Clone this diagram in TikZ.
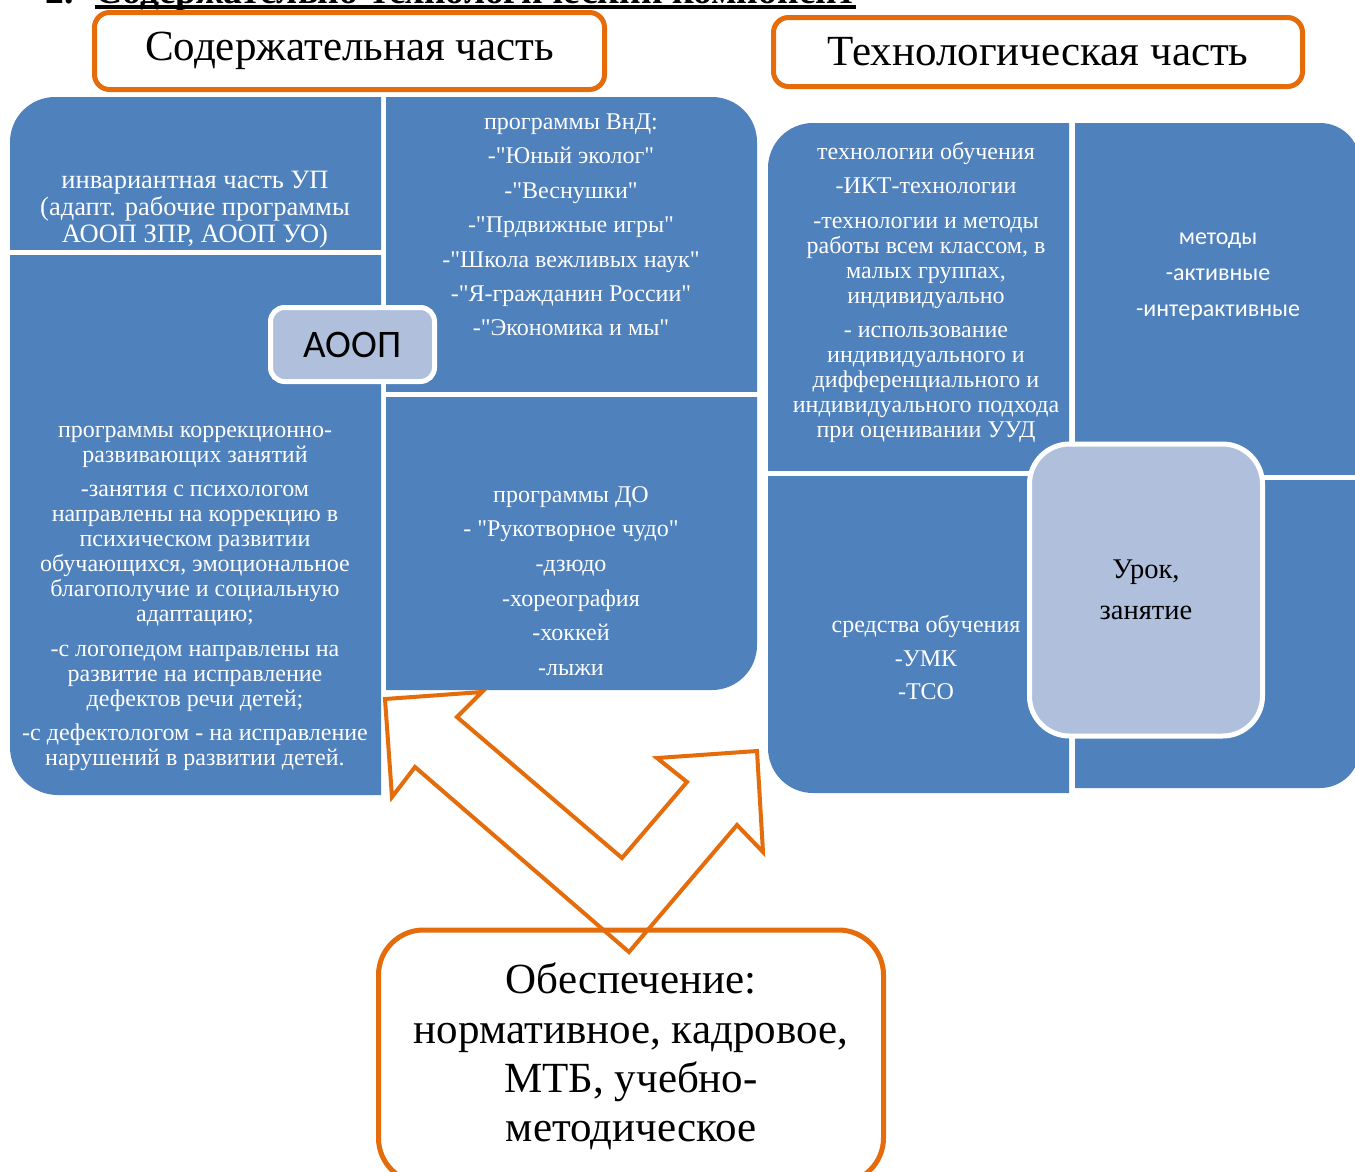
\documentclass[tikz,border=0pt]{standalone}
\usepackage{fontspec}
\setmainfont{Liberation Serif}[Ligatures=TeXOff]
\newfontfamily\calfont{Carlito}
\definecolor{cellblue}{RGB}{79,129,189}
\definecolor{lightcell}{RGB}{176,192,220}
\definecolor{orangeline}{RGB}{228,108,10}
\begin{document}
\begin{tikzpicture}[x=1pt,y=-1pt,
  celltext/.style={text=white, align=center, inner sep=0pt, font=\fontsize{24}{25}\selectfont},
  titlebox/.style={draw=orangeline, line width=5pt, rounded corners=15pt, inner sep=0pt, align=center, font=\fontsize{43}{48}\selectfont},
  centerbox/.style={draw=white, line width=5pt, fill=lightcell, inner sep=0pt, align=center, text=black},
  bentarrow/.style={draw=orangeline, line width=4pt, line join=miter}
]
\useasboundingbox (0,0) rectangle (1355,1171);
\fill[white] (0,0) rectangle (1355,1171);

% cut-off heading at the very top (only its lower edge shows)
\node[anchor=base west, inner sep=0pt, font=\fontsize{37.6}{40}\selectfont\bfseries] (num) at (45,3) {2.};
\node[anchor=base west, inner sep=0pt, font=\fontsize{37.6}{40}\selectfont\bfseries] (head) at (95,3) {Содержательно-технологический компонент};
\draw[line width=3.5pt] ([yshift=-4pt]head.base west) -- ([yshift=-4pt]head.base east);

% ---------- left block ----------
\begin{scope}\clip (10,97) rectangle (381,249);
  \fill[cellblue, rounded corners=45pt] (10,97) rectangle (500,400);\end{scope}
\begin{scope}\clip (10,255) rectangle (381,795);
  \fill[cellblue, rounded corners=48pt] (10,100) rectangle (500,795);\end{scope}
\begin{scope}\clip (386,97) rectangle (757,391);
  \fill[cellblue, rounded corners=45pt] (250,97) rectangle (757,500);\end{scope}
\begin{scope}\clip (386,397) rectangle (757,690);
  \fill[cellblue, rounded corners=45pt] (250,250) rectangle (757,690);\end{scope}

% ---------- right block ----------
\begin{scope}\clip (768,123) rectangle (1069,470);
  \fill[cellblue, rounded corners=45pt] (768,123) rectangle (1200,600);\end{scope}
\begin{scope}\clip (1075,123) rectangle (1360,474);
  \fill[cellblue, rounded corners=40pt] (900,123) rectangle (1360,600);\end{scope}
\begin{scope}\clip (768,476) rectangle (1069,793);
  \fill[cellblue, rounded corners=45pt] (768,300) rectangle (1200,793);\end{scope}
\begin{scope}\clip (1075,480) rectangle (1360,788);
  \fill[cellblue, rounded corners=40pt] (900,300) rectangle (1360,788);\end{scope}

% ---------- title boxes ----------
\node[titlebox, minimum width=510pt, minimum height=77pt] (tcont) at (349.5,51) {Содержательная часть};
\node[titlebox, minimum width=529pt, minimum height=69pt] (ttech) at (1038,52) {\raisebox{-4pt}{Технологическая часть}};

% ---------- cell texts ----------
\node[celltext, font=\fontsize{26.5}{27}\selectfont] (inv) at (195,210)
  {инвариантная часть УП\\(адапт. рабочие программы\\АООП ЗПР, АООП УО)};
\node[celltext] (korr) at (195,598)
  {программы коррекционно-\\развивающих занятий\\[9pt]-занятия с психологом\\направлены на коррекцию в\\психическом развитии\\обучающихся, эмоциональное\\благополучие и социальную\\адаптацию;\\[10pt]-с логопедом направлены на\\развитие на исправление\\дефектов речи детей;\\[9pt]-с дефектологом - на исправление\\нарушений в развитии детей.};
\node[celltext, font=\fontsize{24}{34.4}\selectfont] (vnd) at (571,225)
  {программы ВнД:\\-"Юный эколог"\\-"Веснушки"\\-"Прдвижные игры"\\-"Школа вежливых наук"\\-"Я-гражданин России"\\-"Экономика и мы"};
\node[celltext, font=\fontsize{24}{34.6}\selectfont] (dop) at (571,581)
  {программы ДО\\- "Рукотворное чудо"\\-дзюдо\\-хореография\\-хоккей\\-лыжи};
\node[celltext] (tech) at (926,292)
  {технологии обучения\\[9pt]-ИКТ-технологии\\[10pt]-технологии и методы\\работы всем классом, в\\малых группах,\\индивидуально\\[9pt]- использование\\индивидуального и\\дифференциального и\\индивидуального подхода\\при оценивании УУД};
\node[celltext, font=\calfont\fontsize{24}{36}\selectfont] (meth) at (1218,277)
  {методы\\-активные\\-интерактивные};
\node[celltext, font=\fontsize{24}{33.5}\selectfont] (sredst) at (926,658)
  {средства обучения\\-УМК\\-ТСО};

% ---------- centre boxes ----------
\node[centerbox, rounded corners=14pt, minimum width=164pt, minimum height=74pt, font=\calfont\fontsize{39}{40}\selectfont] (aoop) at (352.5,344.5) {АООП};
\node[centerbox, rounded corners=40pt, minimum width=233pt, minimum height=292pt, font=\fontsize{28.5}{41}\selectfont] (urok) at (1146,590) {Урок,\\занятие};

% ---------- bottom box ----------
\node[titlebox, rounded corners=45pt, minimum width=505pt, minimum height=253pt, font=\fontsize{43}{49.3}\selectfont] (obesp) at (631,1056.5)
  {Обеспечение:\\нормативное, кадровое,\\МТБ, учебно-\\методическое};

% ---------- double bent arrow ----------
\draw[bentarrow] (385,699) -- (482,692) -- (457,717) -- (622,858) -- (687,782) -- (657,758)
  -- (757,751) -- (763,852) -- (737,825) -- (629,952) -- (415,767) -- (392,797) -- cycle;
\end{tikzpicture}
\end{document}
